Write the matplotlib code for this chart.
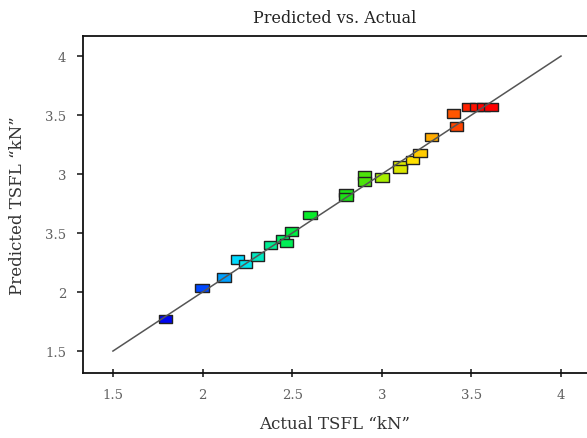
import matplotlib
matplotlib.use("Agg")
import matplotlib.pyplot as plt
import numpy as np
from matplotlib.colors import LinearSegmentedColormap, Normalize

# Data
actual = [1.794, 1.997, 2.119, 2.194, 2.241, 2.305, 2.380, 2.447, 2.469, 2.497,
          2.599, 2.800, 2.800, 2.902, 2.902, 3.001, 3.102, 3.102, 3.171, 3.213,
          3.278, 3.399, 3.418, 3.484, 3.527, 3.568, 3.610]
predicted = [1.770, 2.036, 2.124, 2.274, 2.237, 2.303, 2.400, 2.449, 2.415, 2.511,
             2.653, 2.839, 2.805, 2.986, 2.938, 2.972, 3.076, 3.042, 3.121, 3.178,
             3.316, 3.514, 3.404, 3.570, 3.570, 3.570, 3.570]
xticks = [1.5, 2, 2.5, 3, 3.5, 4]
xtick_labels = ["1.5", "2", "2.5", "3", "3.5", "4"]
yticks = [1.5, 2, 2.5, 3, 3.5, 4]
ytick_labels = ["1.5", "2", "3.5", "3", "3.5", "4"]
line_ends = [1.5, 4.0]

title = "Predicted vs. Actual"
xlabel = "Actual TSFL \u201ckN\u201d"
ylabel = "Predicted TSFL \u201ckN\u201d"

plt.rcParams['font.family'] = ['DejaVu Serif']

fig = plt.figure(figsize=(5.87, 4.39), dpi=100)
ax = fig.add_axes([83/587, 65/439, 1 - 83/587, (374-37)/439])

cmap = LinearSegmentedColormap.from_list(
    "de", [(0.0, "#0000ee"), (0.12, "#0040ff"), (0.24, "#00e0ff"),
           (0.34, "#00ee90"), (0.42, "#00ee30"), (0.60, "#20dd10"),
           (0.68, "#a0f000"), (0.78, "#ffe000"), (0.86, "#ff9900"),
           (0.93, "#ff3300"), (1.0, "#ff0000")])
norm = Normalize(vmin=1.77, vmax=3.57)
colors = cmap(norm(np.array(actual)))

rect = [(-1.0, -0.64), (1.0, -0.64), (1.0, 0.64), (-1.0, 0.64), (-1.0, -0.64)]
ax.scatter(actual, predicted, marker=rect, s=92, c=colors,
           edgecolors="#222222", linewidths=1.0, zorder=2)
ax.plot(line_ends, line_ends, color="#555555", lw=1.1, zorder=3)

ax.set_xlim(1.333, 4.145)
ax.set_ylim(1.314, 4.17)
ax.set_xticks(xticks)
ax.set_xticklabels(xtick_labels)
ax.set_yticks(yticks)
ax.set_yticklabels(ytick_labels)

for s in ["left", "bottom", "top"]:
    ax.spines[s].set_linewidth(1.3)
    ax.spines[s].set_color("#111111")
ax.spines["right"].set_visible(False)

ax.tick_params(axis="x", direction="inout", length=6, width=1.1, colors="#111111",
               labelcolor="#606060", labelsize=9.5, pad=8)
ax.tick_params(axis="y", direction="out", length=4, width=1.1, colors="#111111",
               labelcolor="#606060", labelsize=9.5, pad=8)

ax.set_title(title, fontsize=11.5, color="#222222", pad=10)
ax.set_xlabel(xlabel, fontsize=12, color="#333333", labelpad=10)
ax.set_ylabel(ylabel, fontsize=12, color="#333333", labelpad=14)

fig.savefig("out.png", dpi=100)
